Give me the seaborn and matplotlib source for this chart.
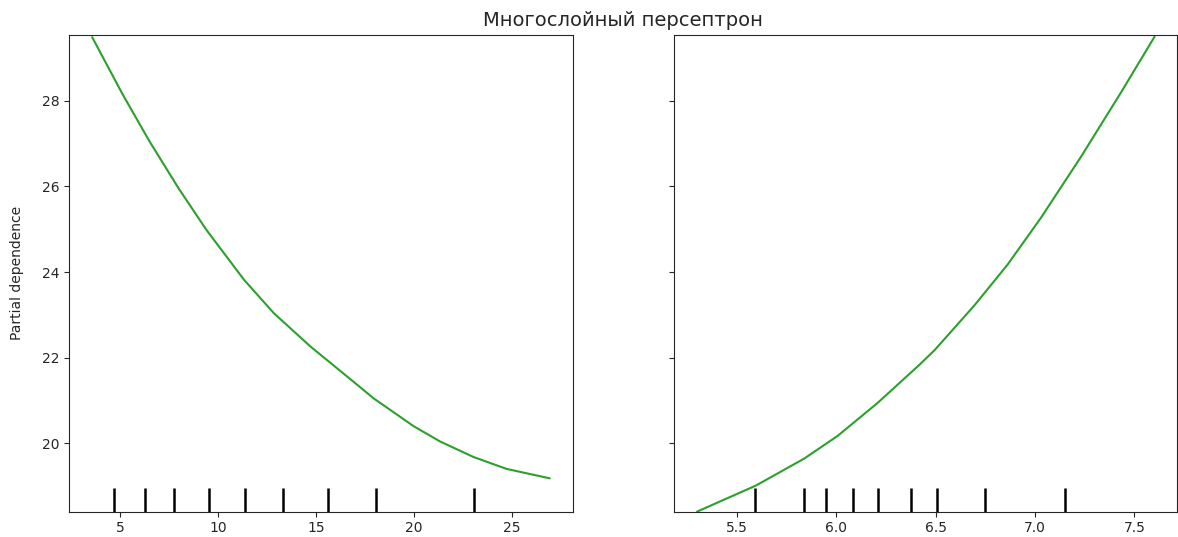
import matplotlib
matplotlib.use("Agg")
import matplotlib.pyplot as plt
import pandas as pd
import seaborn as sns

# partial dependence
lstat_x = [3.58, 5.14, 6.50, 8.00, 9.42, 11.33, 12.85, 14.72, 16.59, 17.94, 19.98, 21.34, 23.03, 24.73, 26.93]
lstat_pd = [29.49, 28.15, 27.06, 25.95, 24.98, 23.82, 23.04, 22.26, 21.56, 21.05, 20.40, 20.04, 19.68, 19.40, 19.18]
lstat_deciles = [4.68, 6.29, 7.77, 9.53, 11.38, 13.33, 15.62, 18.06, 23.04]

rm_x = [5.30, 5.596, 5.839, 6.007, 6.208, 6.418, 6.494, 6.695, 6.863, 7.03, 7.232, 7.434, 7.601]
rm_pd = [18.40, 19.01, 19.64, 20.17, 20.94, 21.83, 22.17, 23.22, 24.18, 25.27, 26.70, 28.21, 29.50]
rm_deciles = [5.594, 5.838, 5.951, 6.086, 6.209, 6.377, 6.505, 6.751, 7.152]

title = "Многослойный персептрон"
line_color = "#2ca02c"

sns.set_style("ticks")
plt.rcParams["font.family"] = ["DejaVu Sans"]

fig = plt.figure(figsize=(11.78, 5.37), dpi=100)
ax1 = fig.add_axes([0.0588, 0.0471, 0.4273, 0.8877])
ax2 = fig.add_axes([0.5722, 0.0471, 0.4273, 0.8877], sharey=ax1)

panels = [(ax1, lstat_x, lstat_pd, lstat_deciles), (ax2, rm_x, rm_pd, rm_deciles)]
for ax, xs, ys, dec in panels:
    df = pd.DataFrame({"x": xs, "pd": ys})
    sns.lineplot(data=df, x="x", y="pd", ax=ax, color=line_color, linewidth=1.5)
    sns.rugplot(x=dec, height=0.05, ax=ax, color="k", linewidth=1.8)
    ax.set_xlabel("")
    ax.set_ylabel("")
    for s in ax.spines.values():
        s.set_visible(True)

ax1.set_ylim(18.40, 29.54)
ax1.set_yticks([20, 22, 24, 26, 28])
ax1.set_ylabel("Partial dependence")
ax1.yaxis.set_label_coords(-0.09, 0.5)
ax2.tick_params(labelleft=False)

fig.suptitle(title, x=0.529, y=0.98, fontsize=14)

fig.savefig("out.png", dpi=100)
